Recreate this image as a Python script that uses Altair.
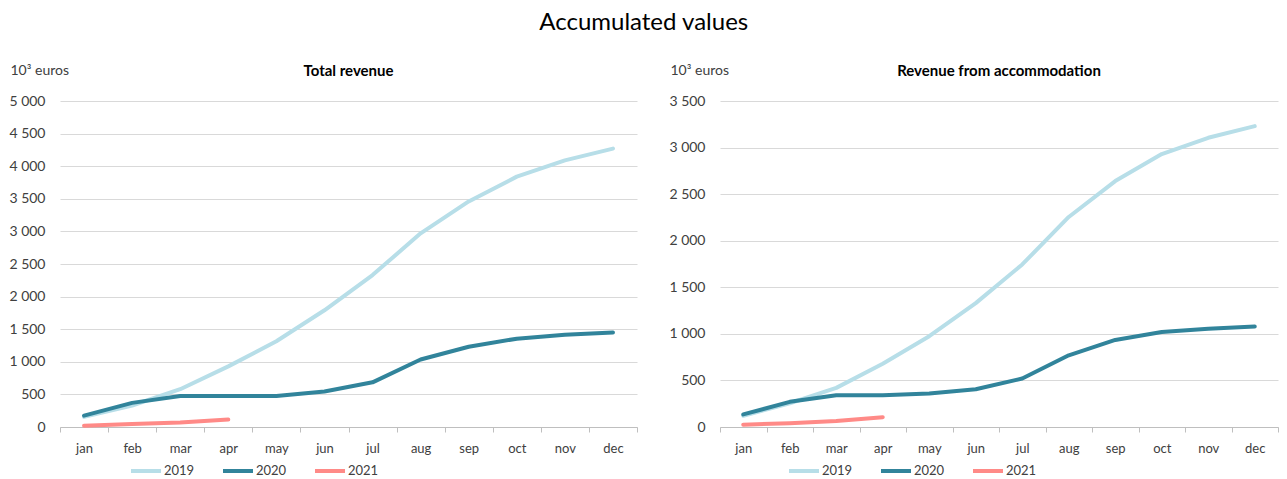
import altair as alt
import pandas as pd

FONT = "Lato"

months = ["jan", "feb", "mar", "apr", "may", "jun", "jul", "aug", "sep", "oct", "nov", "dec"]
years = ["2019", "2020", "2021"]
colors = ["#b7dee8", "#31849b", "#ff8a87"]

# Total revenue (10^3 euros, accumulated)
total_2019 = [155, 330, 580, 930, 1315, 1790, 2330, 2970, 3460, 3840, 4090, 4270]
total_2020 = [175, 370, 475, 475, 475, 545, 685, 1035, 1230, 1355, 1415, 1450]
total_2021 = [20, 45, 70, 115]

# Revenue from accommodation (10^3 euros, accumulated)
acc_2019 = [120, 255, 420, 680, 975, 1330, 1745, 2255, 2640, 2930, 3105, 3230]
acc_2020 = [135, 270, 340, 340, 360, 405, 520, 770, 935, 1020, 1055, 1080]
acc_2021 = [25, 40, 65, 105]


def make_df(v19, v20, v21):
    rows = []
    for y, vals in zip(years, [v19, v20, v21]):
        for m, v in zip(months, vals):
            rows.append({"month": m, "year": y, "value": v})
    return pd.DataFrame(rows)


def panel(df, title, ymax, width, legend_x):
    return (
        alt.Chart(
            df,
            title=alt.TitleParams(
                title, fontSize=15, fontWeight="bold", font=FONT, color="black",
                anchor="middle", frame="group", offset=-16,
            ),
        )
        .mark_line(strokeWidth=4, strokeCap="round", strokeJoin="round")
        .encode(
            x=alt.X(
                "month:O",
                sort=months,
                bandPosition=0.5,
                scale=alt.Scale(type="band", domain=months, paddingInner=0, paddingOuter=0),
                axis=alt.Axis(
                    title=None, labelAngle=0, tickBand="extent", tickSize=5,
                    tickColor="#bfbfbf", domainColor="#bfbfbf", labelPadding=10,
                    grid=False, labelFontSize=13, labelColor="#404040", labelFont=FONT,
                ),
            ),
            y=alt.Y(
                "value:Q",
                scale=alt.Scale(domain=[0, ymax], nice=False),
                axis=alt.Axis(
                    values=list(range(0, ymax + 1, 500)),
                    title="10³ euros", titleAngle=0, titleAlign="left",
                    titleBaseline="middle", titleX=-50, titleY=-31,
                    titleFontWeight="normal", titleFontSize=14, titleFont=FONT,
                    titleColor="#404040",
                    domain=False, ticks=False, labelPadding=15,
                    labelFontSize=14, labelColor="#404040", labelFont=FONT,
                    gridColor="#d9d9d9",
                    labelExpr="replace(format(datum.value, ','), ',', ' ')",
                ),
            ),
            color=alt.Color(
                "year:N",
                scale=alt.Scale(domain=years, range=colors),
                legend=alt.Legend(
                    title=None, orient="none", legendX=legend_x, legendY=353,
                    direction="horizontal",
                    symbolType="stroke", symbolSize=900, symbolStrokeWidth=4,
                    labelFontSize=13, labelFont=FONT, labelColor="#404040",
                    columnPadding=20, labelOffset=1,
                ),
            ),
        )
        .properties(width=width, height=326)
    )


left = panel(make_df(total_2019, total_2020, total_2021), "Total revenue", 5000, 577, 69)
right = panel(make_df(acc_2019, acc_2020, acc_2021), "Revenue from accommodation", 3500, 558, 67)

chart = (
    alt.hconcat(left, right, spacing=30)
    .resolve_legend(color="independent")
    .properties(
        title=alt.TitleParams(
            "Accumulated values", fontSize=24, fontWeight="normal", font=FONT,
            color="black", anchor="middle", offset=28,
        ),
        padding={"left": 0, "top": 3, "right": 0, "bottom": 0},
    )
    .configure_view(stroke=None)
)

chart.save("out.html", embed_options={"renderer": "svg", "actions": False})
